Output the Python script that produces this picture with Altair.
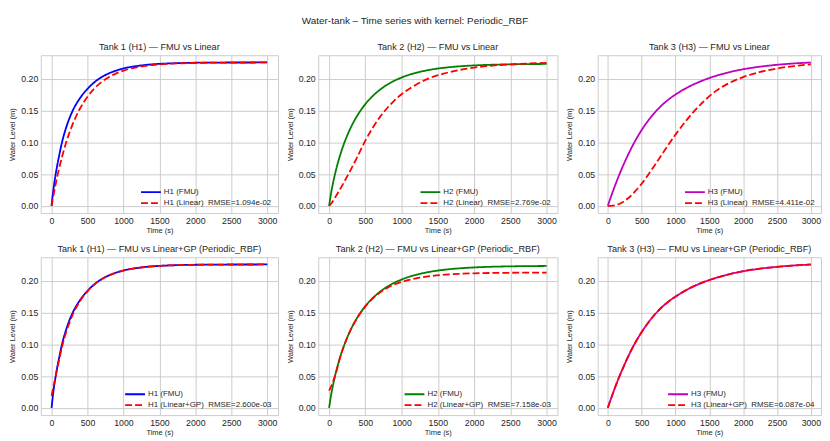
import altair as alt
import pandas as pd

# time grid (s)
t = [0, 25, 50, 75, 100, 150, 200, 250, 300, 400, 500, 600, 700, 800, 900, 1000,
     1200, 1400, 1600, 1800, 2000, 2250, 2500, 2750, 3000]

# FMU reference levels (m)
h1_fmu = [0, 0.0249, 0.0445, 0.0612, 0.0758, 0.102, 0.122, 0.138, 0.151, 0.170, 0.184, 0.1947, 0.2026,
          0.2084, 0.2127, 0.216, 0.2201, 0.2225, 0.2238, 0.2245, 0.225, 0.2252, 0.2254, 0.2254, 0.2255]
h2_fmu = [0, 0.0184, 0.0335, 0.0467, 0.0585, 0.0789, 0.0960, 0.1106, 0.1233, 0.1439, 0.1600, 0.1725, 0.1824,
          0.1904, 0.1967, 0.2018, 0.2092, 0.2141, 0.2173, 0.2194, 0.2208, 0.2219, 0.2225, 0.2229, 0.2231]
h3_fmu = [0, 0.0078, 0.0154, 0.0228, 0.030, 0.0438, 0.0568, 0.069, 0.0805, 0.1013, 0.1192, 0.1345, 0.1474,
          0.1584, 0.1675, 0.175, 0.1875, 0.197, 0.2045, 0.2103, 0.2148, 0.2188, 0.2218, 0.2239, 0.2253]

# Linear model levels (m)
h1_lin = [0, 0.0156, 0.0301, 0.0436, 0.0562, 0.0788, 0.0984, 0.1153, 0.1300, 0.1538, 0.1717, 0.1851, 0.1951,
          0.2027, 0.2084, 0.2126, 0.2183, 0.2214, 0.2232, 0.2242, 0.2248, 0.2251, 0.2253, 0.2254, 0.2255]
h2_lin = [0, 0.003, 0.007, 0.0115, 0.0163, 0.026, 0.036, 0.0465, 0.057, 0.0795, 0.1025, 0.1225, 0.1395,
          0.1535, 0.1655, 0.1755, 0.1905, 0.2015, 0.2085, 0.2137, 0.2175, 0.2205, 0.2225, 0.2238, 0.2247]
h3_lin = [0, 0.00002, 0.0001, 0.0003, 0.0007, 0.0022, 0.0045, 0.0078, 0.012, 0.0225, 0.0348, 0.0494, 0.065,
          0.081, 0.0968, 0.112, 0.1395, 0.1625, 0.1808, 0.1935, 0.2025, 0.2105, 0.216, 0.2198, 0.2224]

# Linear + GP (Periodic_RBF) levels (m)
h1_gp = [0.019, 0.033, 0.0455, 0.0595, 0.0725, 0.098, 0.118, 0.134, 0.148, 0.1685, 0.1833, 0.1943, 0.2024,
         0.2083, 0.2126, 0.2159, 0.2201, 0.2225, 0.2238, 0.2245, 0.2249, 0.2252, 0.2253, 0.2254, 0.2255]
h2_gp = [0.027, 0.033, 0.040, 0.048, 0.057, 0.0785, 0.0957, 0.1103, 0.123, 0.1436, 0.1596, 0.1718, 0.1812,
         0.1885, 0.1940, 0.1980, 0.2036, 0.2071, 0.2094, 0.2108, 0.2116, 0.2121, 0.2124, 0.2125, 0.2125]
h3_gp = [0.0004, 0.0081, 0.0152, 0.0226, 0.0301, 0.0441, 0.0566, 0.0688, 0.0807, 0.1016, 0.1190, 0.1343, 0.1476,
         0.1586, 0.1673, 0.1748, 0.1877, 0.1972, 0.2043, 0.2101, 0.2149, 0.2190, 0.2216, 0.2237, 0.2255]

tank_names = ["Tank 1 (H1)", "Tank 2 (H2)", "Tank 3 (H3)"]
short = ["H1", "H2", "H3"]
fmu_colors = ["#0000ff", "#008000", "#bf00bf"]
fmu_series = [h1_fmu, h2_fmu, h3_fmu]
lin_series = [h1_lin, h2_lin, h3_lin]
gp_series = [h1_gp, h2_gp, h3_gp]
rmse_lin = ["1.094e-02", "2.769e-02", "4.411e-02"]
rmse_gp = ["2.600e-03", "7.158e-03", "6.087e-04"]
kernel = "Periodic_RBF"

x_ticks = [0, 500, 1000, 1500, 2000, 2500, 3000]
y_ticks = [0.0, 0.05, 0.10, 0.15, 0.20]
widths = [239, 241, 225]
H = 159
FONT = "Liberation Sans"


def panel(title, fmu_label, model_label, fmu, model, color, width):
    n = len(t)
    df = pd.DataFrame({
        "t": t + t,
        "v": fmu + model,
        "s": [fmu_label] * n + [model_label] * n,
    })
    dom = [fmu_label, model_label]
    leg = alt.Legend(title=None, orient="bottom-right")
    return alt.Chart(df).mark_line(strokeWidth=1.8, clip=True, interpolate="monotone").encode(
        x=alt.X("t:Q", scale=alt.Scale(domain=[-150, 3150], nice=False, zero=False),
                axis=alt.Axis(values=x_ticks, title="Time (s)", format="d")),
        y=alt.Y("v:Q", scale=alt.Scale(domain=[-0.0113, 0.2368], nice=False, zero=False),
                axis=alt.Axis(values=y_ticks, title="Water Level (m)", format=".2f")),
        color=alt.Color("s:N", scale=alt.Scale(domain=dom, range=[color, "#ff0000"]), legend=leg),
        strokeDash=alt.StrokeDash("s:N", scale=alt.Scale(domain=dom, range=[[1, 0], [7, 3]]), legend=leg),
    ).properties(width=width, height=H, title=title)


row1 = []
row2 = []
for i in range(3):
    row1.append(panel(f"{tank_names[i]} — FMU vs Linear", f"{short[i]} (FMU)",
                      f"{short[i]} (Linear)\u00a0 RMSE={rmse_lin[i]}",
                      fmu_series[i], lin_series[i], fmu_colors[i], widths[i]))
    row2.append(panel(f"{tank_names[i]} — FMU vs Linear+GP ({kernel})", f"{short[i]} (FMU)",
                      f"{short[i]} (Linear+GP)\u00a0 RMSE={rmse_gp[i]}",
                      fmu_series[i], gp_series[i], fmu_colors[i], widths[i]))

ind = dict(color="independent", strokeDash="independent")
r1 = alt.hconcat(*row1, spacing=6.5).resolve_scale(**ind).resolve_legend(**ind)
r2 = alt.hconcat(*row2, spacing=6.5).resolve_scale(**ind).resolve_legend(**ind)

chart = alt.vconcat(r1, r2, spacing=9.5).resolve_scale(**ind).resolve_legend(**ind).properties(
    title=alt.TitleParams(text=f"Water-tank – Time series with kernel: {kernel}", fontSize=10,
                          anchor="middle", offset=17, font=FONT, fontWeight="normal", color="#262626"),
    padding={"left": 0, "top": 6, "right": 0, "bottom": 0},
    background="white",
).configure_view(
    stroke="#cccccc", strokeWidth=1
).configure_axis(
    grid=True, gridColor="#cccccc", gridWidth=1, domain=False, ticks=False,
    labelFont=FONT, labelFontSize=8.8, labelColor="#262626", labelPadding=3, labelFlush=False,
    titleFont=FONT, titleFontSize=7.5, titleFontWeight="normal", titleColor="#262626",
).configure_axisY(
    minExtent=22, maxExtent=22, titlePadding=2
).configure_axisX(
    titlePadding=2
).configure_title(
    font=FONT, fontSize=9.2, fontWeight="normal", color="#262626", offset=3
).configure_legend(
    labelFont=FONT, labelFontSize=8, labelColor="#262626", symbolStrokeWidth=1.8,
    symbolType="M-2,0L2,0", symbolSize=100, padding=0, offset=6, rowPadding=1, labelOffset=7
)

chart.save("out.html", embed_options={"renderer": "svg", "actions": False})
